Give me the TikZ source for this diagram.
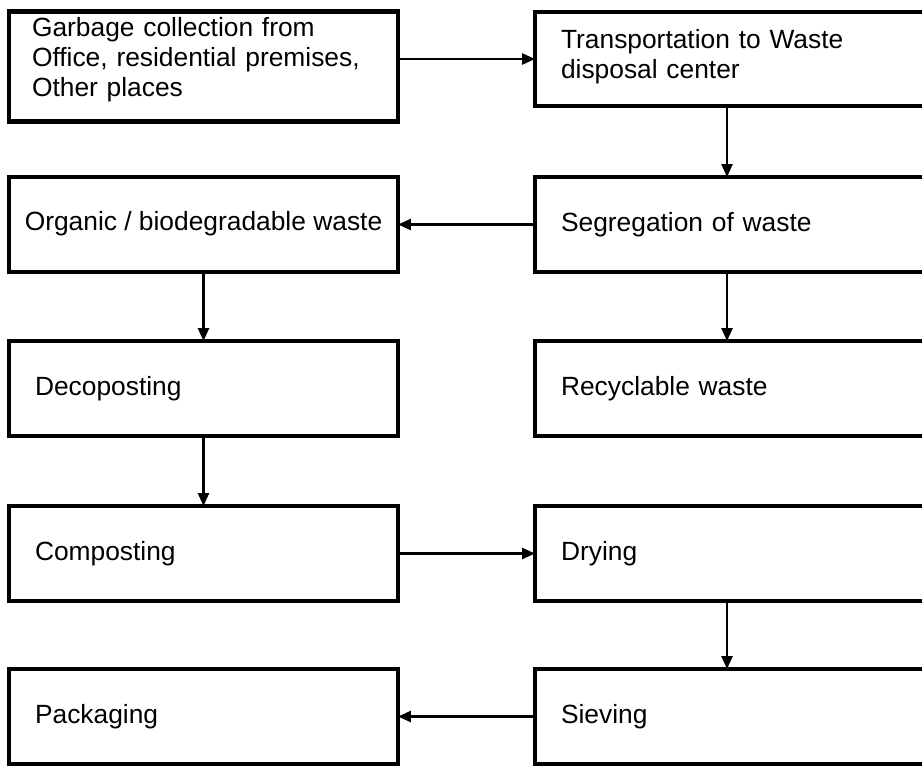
\documentclass[tikz,border=0pt]{standalone}
\usepackage{fontspec}
\setmainfont{Liberation Sans}
\usetikzlibrary{arrows.meta}

\tikzset{
  stage/.style={draw=black, line width=2.6pt, rectangle, outer sep=0pt,
    minimum width=7.78cm, minimum height=1.9cm, inner xsep=0.52cm,
    text width=6.74cm, align=left, font=\fontsize{15}{17}\selectfont},
  flow/.style={line width=1.4pt, -{Triangle[length=0.26cm, width=0.22cm]}}
}

\begin{document}
\begin{tikzpicture}[x=0.02cm, y=-0.02cm]
        \clip (0,0) rectangle (922,765);
        % first row
        \node[stage, minimum height=2.18cm, inner xsep=0.46cm, text width=6.86cm]
            (collect) at (203.5,66.5) {Garbage collection from\\Office, residential premises,\\Other places\rule[-0.38cm]{0pt}{0pt}};
        \node[stage, minimum height=1.88cm] (transport) at (729.5,59) {Transportation to Waste\\disposal center\rule[-0.2cm]{0pt}{0pt}};
        % second row
        \node[stage, text width=, align=center, inner xsep=0.05cm] (organic) at (203.5,224.5) {Organic / biodegradable waste\rule[-0.16cm]{0pt}{0pt}};
        \node[stage] (segregate) at (729.5,224.5) {Segregation of waste};
        % third row
        \node[stage] (decopost) at (203.5,388.5) {Decoposting};
        \node[stage] (recycle) at (729.5,388.5) {Recyclable waste};
        % fourth row
        \node[stage] (compost) at (203.5,553.5) {Composting};
        \node[stage] (dry) at (729.5,553.5) {Drying};
        % fifth row
        \node[stage] (pack) at (203.5,716.5) {Packaging};
        \node[stage] (sieve) at (729.5,716.5) {Sieving};
        % connectors
        \draw[flow] (collect.east |- transport.west) -- (transport.west);
        \draw[flow] (transport.south -| 727,0) -- (segregate.north -| 727,0);
        \draw[flow] (segregate.west) -- (organic.east);
        \draw[flow] (segregate.south -| 727,0) -- (recycle.north -| 727,0);
        \draw[flow] (organic.south) -- (decopost.north);
        \draw[flow] (decopost.south) -- (compost.north);
        \draw[flow] (compost.east) -- (dry.west);
        \draw[flow] (dry.south -| 727,0) -- (sieve.north -| 727,0);
        \draw[flow] (sieve.west) -- (pack.east);
    \end{tikzpicture}
\end{document}
